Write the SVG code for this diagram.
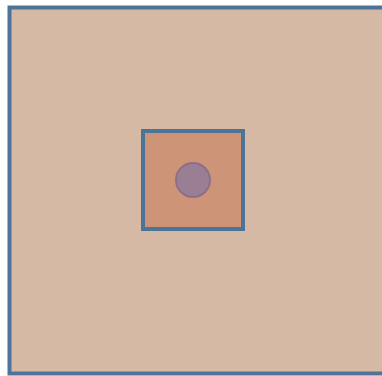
<svg xmlns="http://www.w3.org/2000/svg" width="382" height="376" viewBox="0 0 382 376">
<style>
.frame{stroke:#4d7497;stroke-width:4}
</style>
<rect width="382" height="376" fill="#ffffff"/>
<g id="outer"><rect class="frame" x="9.5" y="7.5" width="380" height="366" fill="#d6b9a4"/></g>
<g id="inner"><rect class="frame" x="143" y="131" width="100" height="98" fill="#cd9477"/></g>
<g id="dot"><circle cx="193" cy="180" r="17" fill="#9a7f94" stroke="#8e6f8a" stroke-width="2"/></g>
</svg>
